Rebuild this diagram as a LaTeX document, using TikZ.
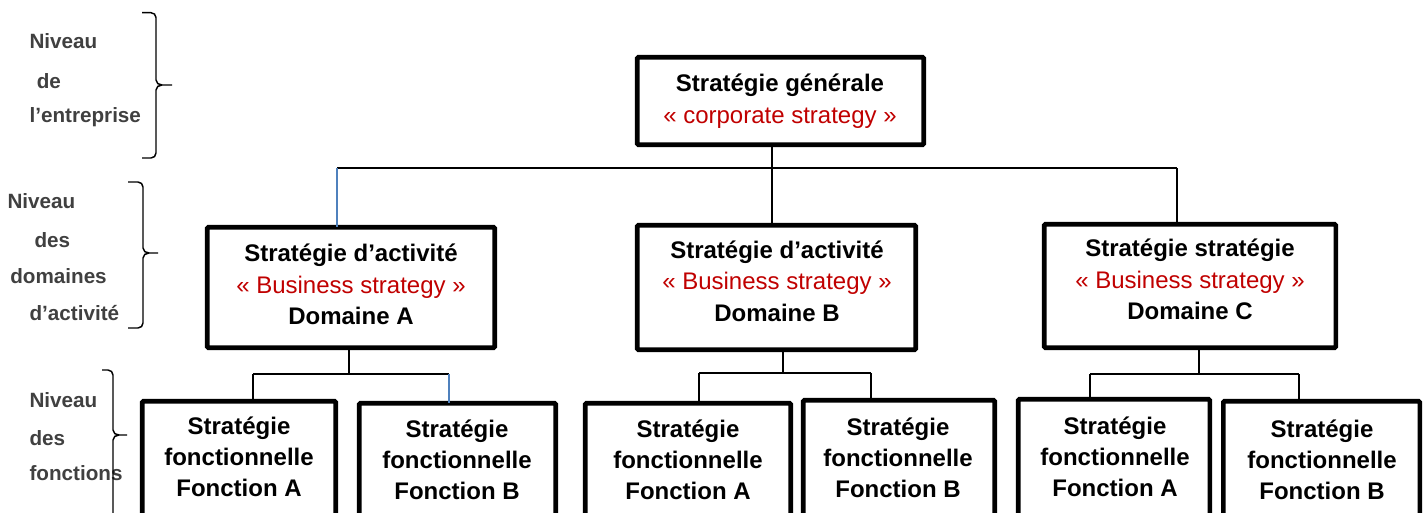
\documentclass[tikz,border=0pt]{standalone}
\usepackage{fontspec}
\setmainfont{Liberation Sans}
\usetikzlibrary{fit}
\definecolor{bizred}{RGB}{192,0,0}
\definecolor{lblgrey}{RGB}{64,64,64}
\definecolor{linkblue}{RGB}{79,129,189}
\begin{document}
\begin{tikzpicture}[x=0.75pt,y=-0.75pt,
  box/.style={draw, line width=3.4pt, inner sep=0pt, outer sep=0pt, rounded corners=0.8pt},
  btxt/.style={align=center, inner sep=0pt, font=\fontsize{18}{23.6}\selectfont\bfseries},
  ftxt/.style={align=center, inner sep=0pt, font=\fontsize{18}{23.3}\selectfont\bfseries},
  lbl/.style={anchor=base west, inner sep=0pt, text=lblgrey, font=\fontsize{15.5}{18}\selectfont\bfseries},
  link/.style={line width=1pt},
  bluelink/.style={line width=1pt, draw=linkblue},
  bracestyle/.style={line width=1.1pt}]
\useasboundingbox (0,0) rectangle (1427,512);
\clip (0,0) rectangle (1427,512);

% boxes
\node[box, fit={(637.25,57.25) (923.75,144.75)}] (top) {};
\node[box, fit={(207.25,227.25) (494.75,347.75)}] (A) {};
\node[box, fit={(637.25,225.25) (915.75,349.75)}] (B) {};
\node[box, fit={(1044.25,224.25) (1335.75,347.75)}] (C) {};
\node[box, fit={(142.25,401.25) (335.75,530)}] (faa) {};
\node[box, fit={(359.25,403.25) (555.75,530)}] (fba) {};
\node[box, fit={(585.25,403.25) (790.75,530)}] (fab) {};
\node[box, fit={(803.25,400.25) (994.75,530)}] (fbb) {};
\node[box, fit={(1018.25,399.25) (1209.75,530)}] (fac) {};
\node[box, fit={(1223.25,401.25) (1419.75,530)}] (fbc) {};

% texts
\node[btxt] (ttop) at (780,101.2) {\strut Stratégie générale\\\strut{\color{bizred}\mdseries « corporate strategy »}};
\node[btxt] (tA) at (351,287) {\strut Stratégie d’activité\\\strut{\color{bizred}\mdseries « Business strategy »}\\\strut Domaine A};
\node[btxt] (tB) at (777,283.4) {\strut Stratégie d’activité\\\strut{\color{bizred}\mdseries « Business strategy »}\\\strut Domaine B};
\node[btxt] (tC) at (1190,282) {\strut Stratégie stratégie\\\strut{\color{bizred}\mdseries « Business strategy »}\\\strut Domaine C};
\node[ftxt] (tfaa) at (239,459.4) {\strut Stratégie\\\strut fonctionnelle\\\strut Fonction A};
\node[ftxt] (tfba) at (457,462) {\strut Stratégie\\\strut fonctionnelle\\\strut Fonction B};
\node[ftxt] (tfab) at (688,462) {\strut Stratégie\\\strut fonctionnelle\\\strut Fonction A};
\node[ftxt] (tfbb) at (898,460) {\strut Stratégie\\\strut fonctionnelle\\\strut Fonction B};
\node[ftxt] (tfac) at (1115,459.4) {\strut Stratégie\\\strut fonctionnelle\\\strut Fonction A};
\node[ftxt] (tfbc) at (1322,462) {\strut Stratégie\\\strut fonctionnelle\\\strut Fonction B};

% connectors level 1
\coordinate (h0) at (772,168);
\coordinate (hl) at (337,168);
\coordinate (hr) at (1177,168);
\draw[link] (top.south -| h0) -- (h0);
\draw[link] (hl) -- (hr);
\draw[bluelink] (hl) -- (A.north -| hl);
\draw[link] (h0) -- (B.north -| h0);
\draw[link] (hr) -- (C.north -| hr);

% connectors A
\coordinate (ja) at (349,374);
\coordinate (jal) at (253,374);
\coordinate (jar) at (449,374);
\draw[link] (A.south -| ja) -- (ja);
\draw[link] (jal) -- (jar);
\draw[link] (jal) -- (faa.north -| jal);
\draw[bluelink] (jar) -- (fba.north -| jar);

% connectors B
\coordinate (jb) at (783,373);
\coordinate (jbl) at (699,373);
\coordinate (jbr) at (871,373);
\draw[link] (B.south -| jb) -- (jb);
\draw[link] (jbl) -- (jbr);
\draw[link] (jbl) -- (fab.north -| jbl);
\draw[link] (jbr) -- (fbb.north -| jbr);

% connectors C
\coordinate (jc) at (1199,374);
\coordinate (jcl) at (1090,374);
\coordinate (jcr) at (1299,374);
\draw[link] (C.south -| jc) -- (jc);
\draw[link] (jcl) -- (jcr);
\draw[link] (jcl) -- (fac.north -| jcl);
\draw[link] (jcr) -- (fbc.north -| jcr);

% left labels
\node[lbl] (l1a) at (29.3,48.5) {Niveau};
\node[lbl] (l1b) at (36.5,88.5) {de};
\node[lbl] (l1c) at (29.3,122.5) {l’entreprise};
\node[lbl] (l2a) at (7.3,208.5) {Niveau};
\node[lbl] (l2b) at (34.3,247) {des};
\node[lbl] (l2c) at (10,283.5) {domaines};
\node[lbl] (l2d) at (29.3,320.5) {d’activité};
\node[lbl] (l3a) at (29.3,407) {Niveau};
\node[lbl] (l3b) at (29.3,445) {des};
\node[lbl] (l3c) at (29.3,480.5) {fonctions};

% braces
\draw[bracestyle] (142,12.7) -- (151,12.7) to[out=0,in=90] (156,17.5) -- (156,80) to[out=-90,in=180] (162,85) -- (172,85);
\draw[bracestyle] (162,85) to[out=180,in=90] (156,90) -- (156,153) to[out=-90,in=0] (151,158) -- (142,158);
\draw[bracestyle] (128,182) -- (138,182) to[out=0,in=90] (143,187) -- (143,248) to[out=-90,in=180] (149,253) -- (158,253);
\draw[bracestyle] (149,253) to[out=180,in=90] (143,258) -- (143,323) to[out=-90,in=0] (138,328) -- (128,328);
\draw[bracestyle] (102,370) -- (108,370) to[out=0,in=90] (113,375) -- (113,430) to[out=-90,in=180] (119,435) -- (127,435);
\draw[bracestyle] (119,435) to[out=180,in=90] (113,440) -- (113,530);
\end{tikzpicture}
\end{document}
